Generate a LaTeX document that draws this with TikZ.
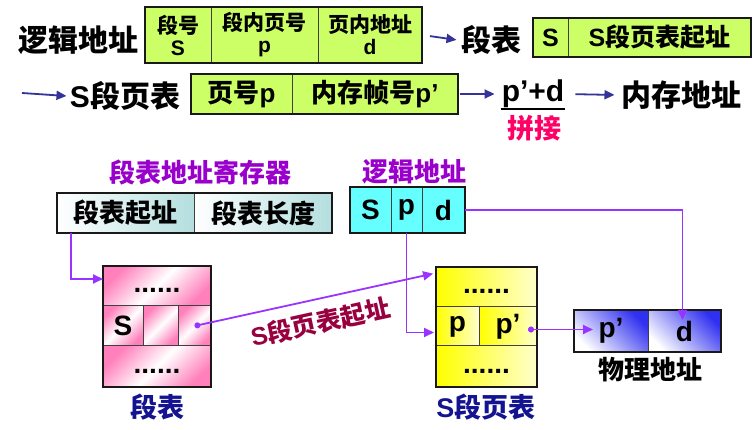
\documentclass[tikz,border=0pt]{standalone}
\usepackage{fontspec}
\setmainfont{Liberation Sans}
\newfontfamily\cjk{Noto Sans CJK SC}
\usepackage{tikz}
\usetikzlibrary{arrows.meta, positioning}
\newcommand{\zh}[1]{{\cjk #1}}
\newcommand{\fsz}[1]{\fontsize{#1}{#1}\selectfont}
\newcommand{\dotsrow}{\vphantom{Sp}......}
\definecolor{cellgreen}{HTML}{CCFF66}
\definecolor{arrowblue}{HTML}{333399}
\definecolor{lblpurple}{HTML}{9900CC}
\definecolor{linepurple}{HTML}{9933FF}
\definecolor{joinpink}{HTML}{FF0066}
\definecolor{startred}{HTML}{990040}
\definecolor{navy}{HTML}{141490}
\definecolor{logcyan}{HTML}{66FFFF}
\definecolor{regteal}{HTML}{B4DEDE}
\definecolor{segpink}{HTML}{FF80BB}
\definecolor{physblue}{HTML}{3030F0}

\begin{document}
\begin{tikzpicture}[
    x=1pt, y=-1pt,
    cell/.style={draw=black!75, line width=1pt, inner sep=0pt, outer sep=0pt, align=center, font=\bfseries\fsz{26}},
    gcell/.style={cell, fill=cellgreen},
    rcell/.style={cell, left color=white, right color=regteal},
    ccell/.style={cell, fill=logcyan, font=\bfseries\fsz{28}},
    pcell/.style={cell, shading=axis, top color=segpink, bottom color=segpink, middle color=white, shading angle=45, font=\bfseries\fsz{28}},
    ycell/.style={cell, left color=yellow, right color=yellow!20, font=\bfseries\fsz{28}},
    bcell/.style={cell, shading=axis, top color=physblue, bottom color=white, shading angle=-45, font=\bfseries\fsz{28}},
    frame/.style={draw=black!90, line width=2pt},
    big/.style={font=\bfseries\fsz{30}},
    plbl/.style={font=\bfseries\fsz{26}, text=lblpurple},
    nlbl/.style={font=\bfseries\fsz{27}, text=navy},
    slbl/.style={font=\bfseries\fsz{25}, text=startred},
    barr/.style={draw=arrowblue, line width=1.8pt, -{Triangle[length=10pt,width=9pt]}},
    parr/.style={draw=linepurple, line width=1.8pt, -{Triangle[length=10pt,width=9pt]}},
    dotarr/.style={parr, {Circle[length=6pt]}-{Triangle[length=10pt,width=9pt]}}
]
\useasboundingbox (0,0) rectangle (753,430);

\node[big] (la) at (79,40) {\zh{逻辑地址}};
\node[gcell, font=\bfseries\fontsize{21}{22}\selectfont, minimum width=66pt, minimum height=56pt, anchor=north west] (segno) at (145,7) {\zh{段号}\\S};
\node[gcell, font=\bfseries\fontsize{21}{22}\selectfont, minimum width=107pt, minimum height=56pt, right=0pt of segno] (pgno) {\zh{段内页号}\\p};
\node[gcell, font=\bfseries\fontsize{21}{22}\selectfont, minimum width=104pt, minimum height=56pt, right=0pt of pgno] (offs) {\zh{页内地址}\\d};
\draw[frame] (segno.north west) rectangle (offs.south east);
\node[big] (segtab) at (491,40) {\zh{段表}};
\node[gcell, font=\bfseries\fsz{25}, minimum width=35pt, minimum height=39pt, anchor=north west] (ss) at (533,18) {S};
\node[gcell, font=\bfseries\fsz{25}, minimum width=183pt, minimum height=39pt, right=0pt of ss] (sstart) {S\zh{段页表起址}};
\draw[frame] (ss.north west) rectangle (sstart.south east);

\coordinate (in) at (22,93);
\node[big] (spt) at (125,96) {S\zh{段页表}};
\node[gcell, minimum width=101pt, minimum height=40pt, anchor=north west] (pno) at (191,74) {\zh{页号}p};
\node[gcell, minimum width=166pt, minimum height=40pt, right=0pt of pno] (fno) {\zh{内存帧号}p’};
\draw[frame] (pno.north west) rectangle (fno.south east);
\node[big, inner sep=1pt] (sum) at (533,94) {p’+d};
\draw[line width=1.5pt] (sum.south west) -- (sum.south east);
\node[font=\bfseries\fsz{27}, text=joinpink] (join) at (534,128) {\zh{拼接}};
\node[big] (mem) at (681,95) {\zh{内存地址}};

\draw[barr, shorten <=8pt, shorten >=1pt] (offs.east) -- (segtab.west);
\draw[barr] (in) -- (spt.west);
\draw[barr, shorten <=2pt, shorten >=6pt] (fno.east) -- (sum.west);
\draw[barr, shorten <=10pt, shorten >=3pt] (sum.east) -- (mem.west);

\node[plbl] (regl) at (200,172) {\zh{段表地址寄存器}};
\node[rcell, minimum width=137pt, minimum height=40pt, anchor=north west] (rbase) at (57,193) {\zh{段表起址}};
\node[rcell, minimum width=138pt, minimum height=40pt, right=0pt of rbase] (rlen) {\zh{段表长度}};
\draw[frame] (rbase.north west) rectangle (rlen.south east);

\node[pcell, minimum width=108pt, minimum height=40pt, anchor=north west] (st1) at (103,266) {\dotsrow};
\node[pcell, minimum width=40pt, minimum height=40pt, anchor=north west] (sts) at (103,306) {S};
\node[pcell, minimum width=35pt, minimum height=40pt, right=0pt of sts] (stm) {};
\node[pcell, minimum width=33pt, minimum height=40pt, right=0pt of stm] (stp) {};
\node[pcell, minimum width=108pt, minimum height=41pt, anchor=north west] (st3) at (103,346) {\dotsrow};
\draw[frame] (st1.north west) rectangle (st3.south east);
\node[nlbl] (stl) at (157,407) {\zh{段表}};

\node[plbl] (lal) at (414,172) {\zh{逻辑地址}};
\node[ccell, minimum width=41pt, minimum height=46pt, anchor=north west] (ls) at (350,187) {S};
\node[ccell, minimum width=31pt, minimum height=46pt, right=0pt of ls] (lp) {p};
\node[ccell, minimum width=43pt, minimum height=46pt, right=0pt of lp] (ld) {d};
\draw[frame] (ls.north west) rectangle (ld.south east);

\node[ycell, minimum width=101pt, minimum height=40pt, anchor=north west] (pt1) at (436,267) {\dotsrow};
\node[ycell, minimum width=43pt, minimum height=39pt, anchor=north west] (ptp) at (436,307) {p};
\node[ycell, minimum width=58pt, minimum height=39pt, right=0pt of ptp] (ptf) {p’};
\node[ycell, minimum width=101pt, minimum height=41pt, anchor=north west] (pt3) at (436,346) {\dotsrow};
\draw[frame] (pt1.north west) rectangle (pt3.south east);
\node[nlbl] (ptl) at (486,407) {S\zh{段页表}};

\node[bcell, minimum width=74pt, minimum height=42pt, anchor=north west] (php) at (574,310) {p’};
\node[bcell, minimum width=73pt, minimum height=42pt, right=0pt of php] (phd) {d};
\draw[frame] (php.north west) rectangle (phd.south east);
\node[font=\bfseries\fsz{26}] (phl) at (650,370) {\zh{物理地址}};

\draw[parr] ([xshift=14pt]rbase.south west) |- ([yshift=7pt]st1.west);
\draw[dotarr, shorten >=3pt] (stp.center) -- ([yshift=14pt]pt1.west) node[slbl, midway, below=7pt, sloped] {S\zh{段页表起址}};
\draw[parr, shorten >=2pt] (lp.south) |- ([yshift=-6pt]ptp.west);
\draw[parr] (ld.east) -| ([xshift=-2pt, yshift=-10pt]phd.north);
\draw[dotarr] ([xshift=-9pt, yshift=-3pt]ptf.east) coordinate (q) -- ([xshift=19pt]php.west |- q);
\end{tikzpicture}
\end{document}
